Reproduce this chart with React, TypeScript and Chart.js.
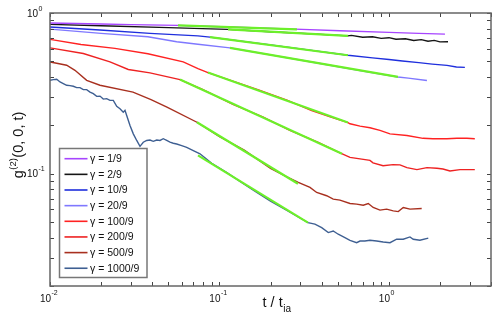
import React, { useEffect, useRef } from "react";
import { Chart, registerables } from "chart.js";

Chart.register(...registerables);

// ---------- data (t / t_ia , g2) ----------
const seriesLabels = ["γ = 1/9", "γ = 2/9", "γ = 10/9", "γ = 20/9", "γ = 100/9", "γ = 200/9", "γ = 500/9", "γ = 1000/9"];
const seriesColors = ["#a745ff", "#151515", "#1f2fdd", "#7f78ff", "#ff2222", "#ee2222", "#a8301f", "#3e5f92"];
const fitColor = "#6cf02a";

const t1 = [0.01, 0.02, 0.03, 0.0569, 0.115, 0.2786, 0.514, 1.0, 1.5, 2.14];
const g1 = [0.866, 0.855, 0.847, 0.838, 0.819, 0.794, 0.775, 0.758, 0.747, 0.739];

const t2 = [0.01, 0.02, 0.05, 0.1122, 0.2, 0.35, 0.5728, 0.6, 0.7, 0.8, 0.9, 1.0, 1.1, 1.25, 1.4, 1.55, 1.7, 1.85, 2.0, 2.23];
const g2 = [0.85, 0.833, 0.811, 0.791, 0.765, 0.742, 0.721, 0.7257, 0.7058, 0.712, 0.695, 0.7021, 0.686, 0.692, 0.675, 0.683, 0.667, 0.675, 0.661, 0.662];

const t3 = [0.01, 0.0197, 0.0389, 0.0746, 0.0879, 0.2, 0.35, 0.5728, 0.8, 1.0, 1.2, 1.5, 1.8, 2.2, 2.5, 2.805];
const g3 = [0.818, 0.783, 0.747, 0.72, 0.708, 0.633, 0.585, 0.546, 0.526, 0.514, 0.503, 0.491, 0.481, 0.472, 0.461, 0.459];

const t4 = [0.01, 0.02, 0.0378, 0.0559, 0.0746, 0.1153, 0.2, 0.4, 0.7, 1.13, 1.3, 1.675];
const g4 = [0.794, 0.747, 0.711, 0.662, 0.639, 0.607, 0.5485, 0.4834, 0.435, 0.4, 0.393, 0.38];

const t5 = [0.01, 0.01524, 0.02417, 0.0378, 0.0611, 0.07464, 0.0855, 0.12, 0.17, 0.25, 0.35, 0.45, 0.5728, 0.589, 0.675, 0.773, 0.885, 1.014, 1.276, 1.589, 1.818, 2.198, 2.518, 2.884, 3.21];
const g5 = [0.685, 0.637, 0.602, 0.558, 0.496, 0.45, 0.426, 0.377, 0.332, 0.287, 0.247, 0.226, 0.208, 0.2045, 0.1976, 0.193, 0.186, 0.177, 0.1728, 0.166, 0.165, 0.165, 0.166, 0.166, 0.165];

const t6 = [0.01, 0.01572, 0.02259, 0.02897, 0.0389, 0.05848, 0.08, 0.12, 0.18, 0.26, 0.38, 0.514, 0.589, 0.675, 0.773, 0.805, 0.923, 1.057, 1.161, 1.276, 1.462, 1.675, 1.919, 2.083, 2.29, 2.624, 3.21];
const g6 = [0.607, 0.56, 0.496, 0.445, 0.424, 0.385, 0.333, 0.27, 0.226, 0.186, 0.157, 0.1347, 0.1264, 0.1236, 0.121, 0.1167, 0.112, 0.1139, 0.1134, 0.109, 0.106, 0.109, 0.108, 0.107, 0.104, 0.106, 0.106];

const t7 = [0.01, 0.01095, 0.01254, 0.01404, 0.01646, 0.01972, 0.03088, 0.03945, 0.04898, 0.07362, 0.1, 0.14, 0.2, 0.25, 0.2917, 0.342, 0.3746, 0.429, 0.469, 0.514, 0.589, 0.6446, 0.705, 0.755, 0.807, 0.885, 0.969, 1.06, 1.135, 1.214, 1.33, 1.56];
const g7 = [0.496, 0.487, 0.473, 0.44, 0.381, 0.355, 0.322, 0.289, 0.26, 0.209, 0.17, 0.14, 0.108, 0.0955, 0.0882, 0.0821, 0.0764, 0.0729, 0.0695, 0.0685, 0.0652, 0.0647, 0.0637, 0.0652, 0.0616, 0.0593, 0.0602, 0.0587, 0.0581, 0.0616, 0.0602, 0.0607];

const t8 = [0.01, 0.01046, 0.01095, 0.01146, 0.01198, 0.01254, 0.01312, 0.01373, 0.01437, 0.01503, 0.01572, 0.01646, 0.01722, 0.01801, 0.01886, 0.01972, 0.02063, 0.0216, 0.02259, 0.02363, 0.02475, 0.02588, 0.02706, 0.0277, 0.02835, 0.02965, 0.03101, 0.03248, 0.03396, 0.03551, 0.03719, 0.0389, 0.04068, 0.04261, 0.04457, 0.0466, 0.04881, 0.05105, 0.05338, 0.05591, 0.05984, 0.06405, 0.07006, 0.07674, 0.09, 0.11, 0.13, 0.16, 0.2, 0.25, 0.3327, 0.3656, 0.401, 0.4385, 0.469, 0.502, 0.5495, 0.589, 0.6446, 0.675, 0.721, 0.773, 0.846, 0.925, 1.014, 1.11, 1.214, 1.33, 1.391, 1.524, 1.706];
const g8 = [0.381, 0.385, 0.387, 0.372, 0.364, 0.355, 0.3533, 0.35, 0.343, 0.343, 0.3334, 0.3334, 0.322, 0.3149, 0.303, 0.304, 0.2913, 0.293, 0.286, 0.286, 0.2624, 0.2537, 0.2416, 0.248, 0.23, 0.1995, 0.177, 0.161, 0.148, 0.157, 0.161, 0.162, 0.159, 0.162, 0.161, 0.165, 0.161, 0.157, 0.1547, 0.153, 0.1496, 0.146, 0.1393, 0.133, 0.116, 0.102, 0.0905, 0.0785, 0.0675, 0.059, 0.0496, 0.0485, 0.0462, 0.043, 0.044, 0.042, 0.04, 0.0385, 0.0372, 0.0381, 0.0381, 0.0385, 0.0381, 0.0376, 0.0372, 0.0391, 0.0391, 0.0404, 0.0391, 0.0385, 0.0397];

// power-law fits (green): start/end points per series
const fitStartT = [0.0569, 0.1122, 0.0879, 0.1153, 0.0855, 0.05848, 0.07362, 0.07464];
const fitStartG = [0.838, 0.791, 0.708, 0.607, 0.426, 0.385, 0.209, 0.13];
const fitEndT = [0.2864, 0.5728, 0.5728, 1.13, 0.5728, 0.5284, 0.2904, 0.3327];
const fitEndG = [0.791, 0.721, 0.546, 0.4, 0.208, 0.133, 0.0866, 0.0496];

// axes
const xMin = 0.01, xMax = 4;
const yMin = 0.02, yMax = 1;
const xTickValues = [0.01, 0.02, 0.03, 0.04, 0.05, 0.06, 0.07, 0.08, 0.09, 0.1, 0.2, 0.3, 0.4, 0.5, 0.6, 0.7, 0.8, 0.9, 1, 2, 3, 4];
const yTickValues = [0.02, 0.03, 0.04, 0.05, 0.06, 0.07, 0.08, 0.09, 0.1, 0.2, 0.3, 0.4, 0.5, 0.6, 0.7, 0.8, 0.9, 1];
const xLabelValues = [0.01, 0.1, 1];
const xLabelExps = ["-2", "-1", "0"];
const yLabelValues = [0.1, 1];
const yLabelExps = ["-1", "0"];

const allT = [t1, t2, t3, t4, t5, t6, t7, t8];
const allG = [g1, g2, g3, g4, g5, g6, g7, g8];

const FONT = "'Liberation Sans', Arial, Helvetica, sans-serif";

const decorPlugin = {
  id: "decor",
  afterDraw(chart: any) {
    const { ctx, chartArea: a } = chart;
    const xs = chart.scales.x;
    const ys = chart.scales.y;
    ctx.save();
    // inward ticks
    ctx.strokeStyle = "#444";
    ctx.lineWidth = 1;
    ctx.beginPath();
    const L = 4;
    xTickValues.forEach((v) => {
      const px = Math.round(xs.getPixelForValue(v)) + 0.5;
      ctx.moveTo(px, a.bottom);
      ctx.lineTo(px, a.bottom - L);
      ctx.moveTo(px, a.top);
      ctx.lineTo(px, a.top + L);
    });
    yTickValues.forEach((v) => {
      const py = Math.round(ys.getPixelForValue(v)) + 0.5;
      ctx.moveTo(a.left, py);
      ctx.lineTo(a.left + L, py);
      ctx.moveTo(a.right, py);
      ctx.lineTo(a.right - L, py);
    });
    ctx.stroke();
    // frame
    ctx.strokeStyle = "#666";
    ctx.lineWidth = 1.5;
    ctx.strokeRect(a.left, a.top, a.right - a.left, a.bottom - a.top);

    // tick labels
    ctx.fillStyle = "#111";
    ctx.textBaseline = "alphabetic";
    xLabelValues.forEach((v, i) => {
      const px = xs.getPixelForValue(v);
      ctx.font = `10px ${FONT}`;
      ctx.textAlign = "right";
      ctx.fillText("10", px + 1, a.bottom + 16);
      ctx.font = `7px ${FONT}`;
      ctx.textAlign = "left";
      ctx.fillText(xLabelExps[i], px + 1.5, a.bottom + 9);
    });
    yLabelValues.forEach((v, i) => {
      const py = ys.getPixelForValue(v);
      ctx.font = `10px ${FONT}`;
      ctx.textAlign = "right";
      ctx.fillText("10", a.left - 12, py + 3.5);
      ctx.font = `7px ${FONT}`;
      ctx.textAlign = "left";
      ctx.fillText(yLabelExps[i], a.left - 11.5, py - 2.5);
    });

    // x title
    ctx.textAlign = "left";
    ctx.font = `14.5px ${FONT}`;
    const xt = "t / t";
    const wx = ctx.measureText(xt).width;
    ctx.font = `10px ${FONT}`;
    const ws = ctx.measureText("ia").width;
    const cx = (a.left + a.right) / 2 + 6;
    const x0 = cx - (wx + ws) / 2;
    ctx.font = `14.5px ${FONT}`;
    ctx.fillText(xt, x0, a.bottom + 21);
    ctx.font = `10px ${FONT}`;
    ctx.fillText("ia", x0 + wx + 0.5, a.bottom + 26);

    // y title (rotated)
    ctx.save();
    ctx.translate(23, 0);
    ctx.rotate(-Math.PI / 2);
    ctx.font = `14.5px ${FONT}`;
    const wg = ctx.measureText("g").width;
    const wr = ctx.measureText("(0, 0, t)").width;
    ctx.font = `9.5px ${FONT}`;
    const wsup = ctx.measureText("(2)").width;
    const total = wg + wsup + wr;
    const cy = 145.5;
    const s0 = -(cy + total / 2);
    ctx.font = `14.5px ${FONT}`;
    ctx.fillText("g", s0, 0);
    ctx.font = `9.5px ${FONT}`;
    ctx.fillText("(2)", s0 + wg + 0.5, -7);
    ctx.font = `14.5px ${FONT}`;
    ctx.fillText("(0, 0, t)", s0 + wg + wsup + 1, 0);
    ctx.restore();

    // legend box
    const bx = a.left + 9.5;
    const by = 148.5;
    const bw = 87.5;
    const bh = 129;
    ctx.fillStyle = "#fff";
    ctx.fillRect(bx, by, bw, bh);
    ctx.strokeStyle = "#777";
    ctx.lineWidth = 1.5;
    ctx.strokeRect(bx, by, bw, bh);
    ctx.font = `10.5px ${FONT}`;
    ctx.textAlign = "left";
    ctx.textBaseline = "middle";
    seriesLabels.forEach((lab, i) => {
      const yy = 158.7 + i * 15.65;
      ctx.strokeStyle = seriesColors[i];
      ctx.lineWidth = 1.6;
      ctx.beginPath();
      ctx.moveTo(bx + 5, yy);
      ctx.lineTo(bx + 28, yy);
      ctx.stroke();
      ctx.fillStyle = "#111";
      ctx.fillText(lab, bx + 30.5, yy + 0.5);
    });
    ctx.restore();
  },
};

export default function App() {
  const ref = useRef<HTMLCanvasElement>(null);
  useEffect(() => {
    if (!ref.current) return;
    const dataSets: any[] = [];
    allT.forEach((ts, i) => {
      dataSets.push({
        label: seriesLabels[i],
        data: ts.map((x, j) => ({ x, y: allG[i][j] })),
        borderColor: seriesColors[i],
        backgroundColor: seriesColors[i],
        borderWidth: 1.4,
        pointRadius: 0,
        showLine: true,
        fill: false,
        tension: 0,
        order: 2,
      });
    });
    fitStartT.forEach((_, i) => {
      dataSets.push({
        label: "fit " + seriesLabels[i],
        data: [
          { x: fitStartT[i], y: fitStartG[i] },
          { x: fitEndT[i], y: fitEndG[i] },
        ],
        borderColor: fitColor,
        backgroundColor: fitColor,
        borderWidth: 2.2,
        pointRadius: 0,
        showLine: true,
        fill: false,
        order: 1,
      });
    });
    const chart = new Chart(ref.current, {
      type: "scatter",
      data: { datasets: dataSets },
      options: {
        responsive: false,
        animation: false,
        devicePixelRatio: 1,
        layout: { padding: { left: 50, top: 13, right: 7, bottom: 35 } },
        plugins: { legend: { display: false }, tooltip: { enabled: false } },
        scales: {
          x: { type: "logarithmic", min: xMin, max: xMax, display: false },
          y: { type: "logarithmic", min: yMin, max: yMax, display: false },
        },
      },
      plugins: [decorPlugin],
    } as any);
    return () => chart.destroy();
  }, []);
  return (
    <div style={{ position: "fixed", left: 0, top: 0, width: 498, height: 321, background: "#fff" }}>
      <canvas ref={ref} width={498} height={321} style={{ display: "block", width: 498, height: 321 }} />
    </div>
  );
}
